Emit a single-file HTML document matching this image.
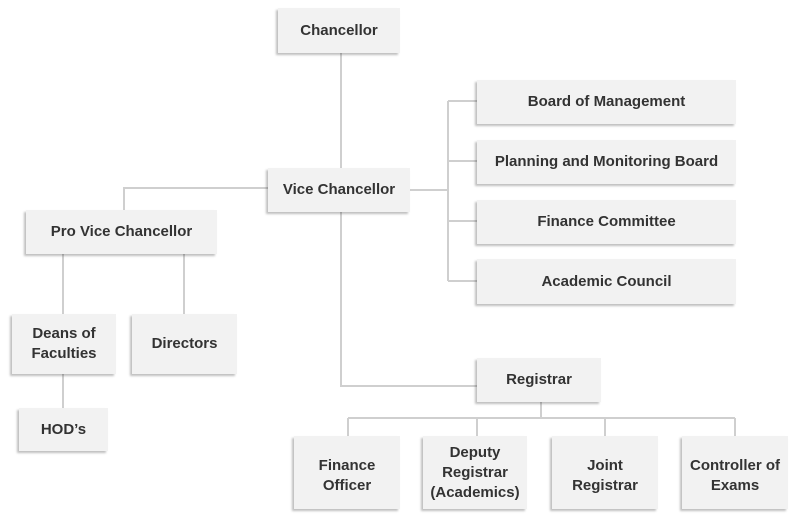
<!DOCTYPE html><html><head><style>
body{margin:0;width:800px;height:523px;background:#fff;position:relative;overflow:hidden;font-family:"Liberation Sans",sans-serif}
.b{position:absolute;background:#f2f2f2;box-shadow:-2px 2px 2px rgba(0,0,0,0.25);display:flex;align-items:center;justify-content:center;text-align:center;font-weight:bold;font-size:15px;color:#333;line-height:20px;box-sizing:border-box}
.p{padding-top:6px}
svg{position:absolute;left:0;top:0}
</style></head><body>
<svg width="800" height="523"><g stroke="#cfcfcf" stroke-width="2" fill="none">
<path d="M341 53V168"/>
<path d="M268 188H124V210"/>
<path d="M410 190H448M448 101V281M448 101H477M448 161H477M448 221H477M448 281H477"/>
<path d="M341 212V386H477"/>
<path d="M541 402V418M348 418H735M348 418V436M477 418V436M605 418V436M735 418V436"/>
<path d="M63 254V314M184 254V314M63 374V408"/>
</g></svg>
<div class="b" style="left:278px;top:8px;width:122px;height:45px">Chancellor</div>
<div class="b" style="left:268px;top:168px;width:142px;height:44px">Vice Chancellor</div>
<div class="b" style="left:26px;top:210px;width:191px;height:44px">Pro Vice Chancellor</div>
<div class="b" style="left:477px;top:80px;width:259px;height:44px">Board of Management</div>
<div class="b" style="left:477px;top:140px;width:259px;height:44px">Planning and Monitoring Board</div>
<div class="b" style="left:477px;top:200px;width:259px;height:44px">Finance Committee</div>
<div class="b" style="left:477px;top:259px;width:259px;height:45px">Academic Council</div>
<div class="b" style="left:12px;top:314px;width:104px;height:60px">Deans of<br>Faculties</div>
<div class="b" style="left:132px;top:314px;width:105px;height:60px">Directors</div>
<div class="b" style="left:19px;top:408px;width:89px;height:43px">HOD’s</div>
<div class="b" style="left:477px;top:358px;width:124px;height:44px">Registrar</div>
<div class="b p" style="left:294px;top:436px;width:106px;height:73px">Finance<br>Officer</div>
<div class="b" style="left:423px;top:436px;width:104px;height:73px">Deputy<br>Registrar<br>(Academics)</div>
<div class="b p" style="left:552px;top:436px;width:106px;height:73px">Joint<br>Registrar</div>
<div class="b p" style="left:682px;top:436px;width:106px;height:73px">Controller of<br>Exams</div>
</body></html>
